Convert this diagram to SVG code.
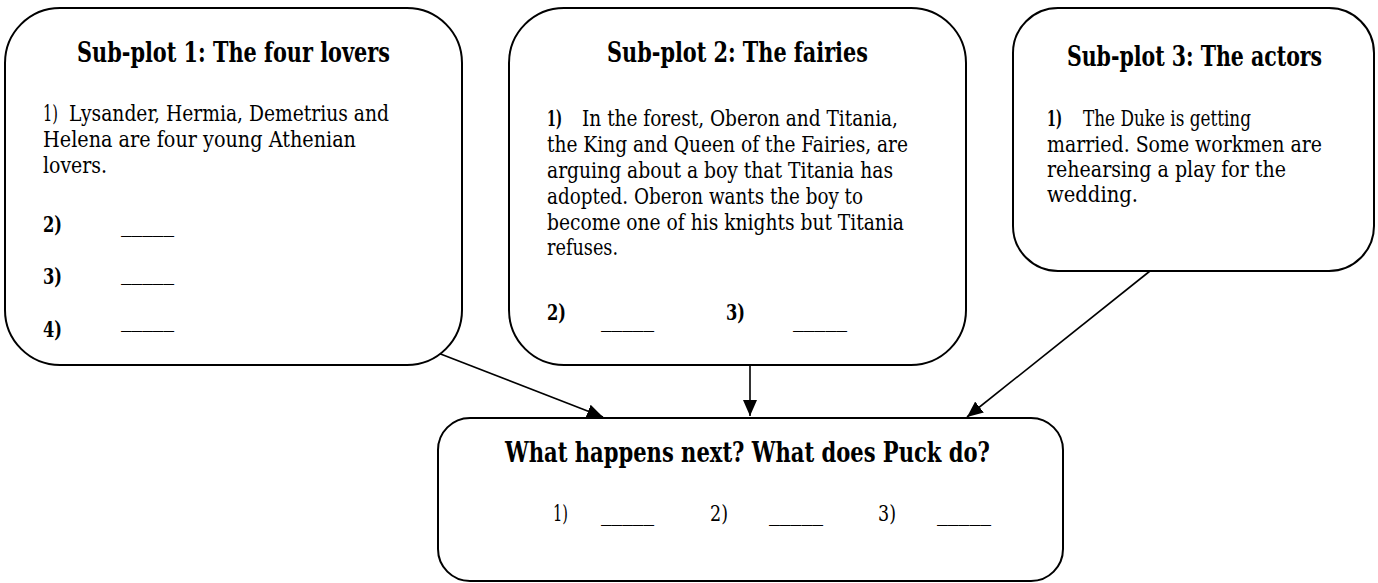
<svg xmlns="http://www.w3.org/2000/svg" width="1378" height="583" viewBox="0 0 1378 583">
<style>
.box{fill:#fff;stroke:#000;stroke-width:2}
.conn{stroke:#000;stroke-width:1.6;fill:none}
text{font-family:"DejaVu Serif Condensed","DejaVu Serif","Liberation Serif",serif;font-stretch:condensed;fill:#000}
.title{font-size:28px;font-weight:bold;text-anchor:middle}
.body{font-size:22px}
.num{font-size:22px;font-weight:bold}
.numr{font-size:22px}
.blank{font-size:22px}
</style>
<defs>
<marker id="ah" viewBox="0 0 16 14" refX="16" refY="7" markerWidth="16" markerHeight="14" markerUnits="userSpaceOnUse" orient="auto">
<path d="M0,0 L16,7 L0,14 z" fill="#000"/>
</marker>
</defs>
<rect width="1378" height="583" fill="#fff"/>

<g id="connectors">
<line class="conn" x1="438" y1="353" x2="603" y2="417" marker-end="url(#ah)"/>
<line class="conn" x1="750" y1="365" x2="750" y2="416" marker-end="url(#ah)"/>
<line class="conn" x1="1150" y1="271" x2="967" y2="417" marker-end="url(#ah)"/>
</g>

<g id="subplot1">
<rect class="box" x="5" y="8" width="457" height="357" rx="55" ry="55"/>
<text class="title" transform="translate(233.5,62) scale(0.8,1)" x="0" y="0" textLength="391" lengthAdjust="spacingAndGlyphs">Sub-plot 1: The four lovers</text>
<text class="numr" x="43" y="121" textLength="15" lengthAdjust="spacingAndGlyphs">1)</text>
<text class="body" x="69" y="121" textLength="320" lengthAdjust="spacingAndGlyphs">Lysander, Hermia, Demetrius and</text>
<text class="body" x="43" y="147" textLength="313" lengthAdjust="spacingAndGlyphs">Helena are four young Athenian</text>
<text class="body" x="43" y="173" textLength="64" lengthAdjust="spacingAndGlyphs">lovers.</text>
<text class="num" x="43" y="232" textLength="19" lengthAdjust="spacingAndGlyphs">2)</text>
<text class="blank" x="121" y="232" textLength="53" lengthAdjust="spacingAndGlyphs">_____</text>
<text class="num" x="43" y="284" textLength="19" lengthAdjust="spacingAndGlyphs">3)</text>
<text class="blank" x="121" y="280" textLength="53" lengthAdjust="spacingAndGlyphs">_____</text>
<text class="num" x="43" y="337" textLength="19" lengthAdjust="spacingAndGlyphs">4)</text>
<text class="blank" x="121" y="327" textLength="53" lengthAdjust="spacingAndGlyphs">_____</text>
</g>

<g id="subplot2">
<rect class="box" x="509" y="8" width="457" height="357" rx="55" ry="55"/>
<text class="title" transform="translate(737.5,62) scale(0.8,1)" x="0" y="0" textLength="326" lengthAdjust="spacingAndGlyphs">Sub-plot 2: The fairies</text>
<text class="num" x="547" y="126" textLength="15" lengthAdjust="spacingAndGlyphs">1)</text>
<text class="body" x="582" y="126" textLength="316" lengthAdjust="spacingAndGlyphs">In the forest, Oberon and Titania,</text>
<text class="body" x="547" y="152" textLength="361" lengthAdjust="spacingAndGlyphs">the King and Queen of the Fairies, are</text>
<text class="body" x="547" y="178" textLength="346" lengthAdjust="spacingAndGlyphs">arguing about a boy that Titania has</text>
<text class="body" x="547" y="204" textLength="316" lengthAdjust="spacingAndGlyphs">adopted. Oberon wants the boy to</text>
<text class="body" x="547" y="230" textLength="357" lengthAdjust="spacingAndGlyphs">become one of his knights but Titania</text>
<text class="body" x="547" y="255" textLength="71" lengthAdjust="spacingAndGlyphs">refuses.</text>
<text class="num" x="547" y="320" textLength="19" lengthAdjust="spacingAndGlyphs">2)</text>
<text class="blank" x="601" y="327" textLength="53" lengthAdjust="spacingAndGlyphs">_____</text>
<text class="num" x="726" y="320" textLength="19" lengthAdjust="spacingAndGlyphs">3)</text>
<text class="blank" x="793" y="327" textLength="54" lengthAdjust="spacingAndGlyphs">_____</text>
</g>

<g id="subplot3">
<rect class="box" x="1013" y="8" width="361" height="263" rx="45" ry="45"/>
<text class="title" transform="translate(1194.5,66) scale(0.8,1)" x="0" y="0" textLength="319" lengthAdjust="spacingAndGlyphs">Sub-plot 3: The actors</text>
<text class="num" x="1047" y="126" textLength="15" lengthAdjust="spacingAndGlyphs">1)</text>
<text class="body" x="1083" y="126" textLength="168" lengthAdjust="spacingAndGlyphs">The Duke is getting</text>
<text class="body" x="1047" y="152" textLength="275" lengthAdjust="spacingAndGlyphs">married. Some workmen are</text>
<text class="body" x="1047" y="177" textLength="239" lengthAdjust="spacingAndGlyphs">rehearsing a play for the</text>
<text class="body" x="1047" y="202" textLength="91" lengthAdjust="spacingAndGlyphs">wedding.</text>
</g>

<g id="next">
<rect class="box" x="438" y="418" width="625" height="163" rx="32" ry="32"/>
<text class="title" transform="translate(747.5,462) scale(0.8,1)" x="0" y="0" textLength="606" lengthAdjust="spacingAndGlyphs">What happens next? What does Puck do?</text>
<text class="numr" x="553" y="521" textLength="15" lengthAdjust="spacingAndGlyphs">1)</text>
<text class="blank" x="601" y="521" textLength="53" lengthAdjust="spacingAndGlyphs">_____</text>
<text class="numr" x="710" y="521" textLength="18" lengthAdjust="spacingAndGlyphs">2)</text>
<text class="blank" x="769" y="521" textLength="54" lengthAdjust="spacingAndGlyphs">_____</text>
<text class="numr" x="878" y="521" textLength="18" lengthAdjust="spacingAndGlyphs">3)</text>
<text class="blank" x="937" y="521" textLength="54" lengthAdjust="spacingAndGlyphs">_____</text>
</g>
</svg>
